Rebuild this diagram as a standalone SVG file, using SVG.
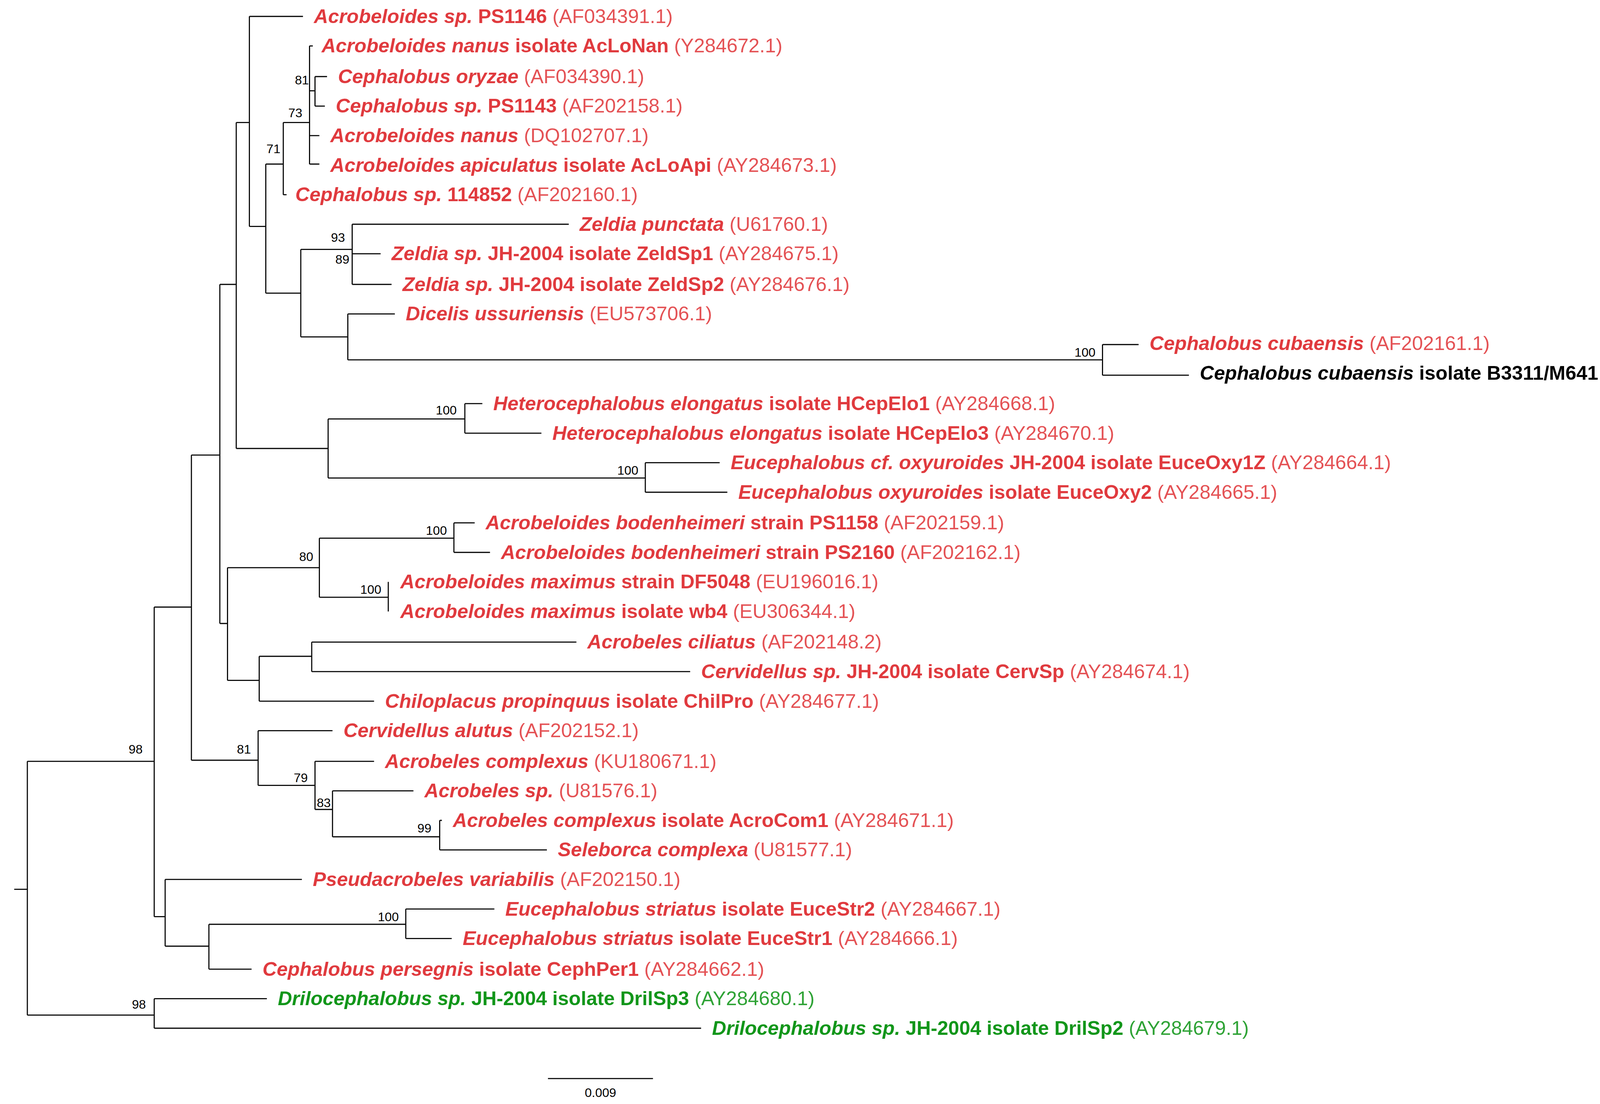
<svg xmlns="http://www.w3.org/2000/svg" width="4390" height="2826" viewBox="0 0 4390 2826">
<style>
.t{font-family:"Liberation Sans",Arial,sans-serif;font-size:18px;fill:#e03a3e}
.g{fill:#12961a}.k{fill:#000}
.n{font-style:italic;font-weight:bold}.s{font-weight:bold}.a{fill-opacity:0.88}
.b{font-family:"Liberation Sans",Arial,sans-serif;font-size:11.5px;fill:#000;text-anchor:middle}
.e{fill:none;stroke:#000;stroke-width:1}
</style>
<rect width="4390" height="2826" fill="#fff"/>
<g transform="scale(2.8)">
<g id="connectors">
<path class="e" d="M13 813H25M25 696V928M25 696H141M25 928H141M141 555V838M141 555H175M141 838H151M175 416V695M175 416H201M175 695H236M201 260V570M201 260H216M201 570H208M216 112V410M216 112H228M216 410H300M228 15V207M228 15H277M228 207H243M243 150V268M243 150H259M243 268H275M259 112V178M259 112H283M259 178H262M283 42V150M283 42H286M283 83H288M283 124H292M283 150H292M288 70V97M288 70H299M288 97H297M275 228V308M275 228H322M275 308H318M322 205V260M322 205H520M322 232H348M322 260H358M318 287V329M318 287H361M318 329H1008M1008 315V343M1008 315H1041M1008 343H1087M300 383V437M300 383H425M300 437H590M425 369V396M425 369H441M425 396H495M590 423V450M590 423H658M590 450H665M208 519V622M208 519H292M208 622H237M292 492V546M292 492H415M292 546H355M415 478V505M415 478H434M415 505H448M355 532V559M237 600V641M237 600H285M237 641H342M285 587V614M285 587H527M285 614H631M236 668V718M236 668H304M236 718H288M288 696V740M288 696H342M288 740H304M304 723V765M304 723H378M304 765H402M402 750V777M402 750H404M402 777H500M151 804V865M151 804H276M151 865H191M191 845V886M191 845H371M191 886H230M371 831V858M371 831H452M371 858H413M141 913V940M141 913H244M141 940H641M501 986H597"/>
</g>
<g id="bootstrap">
<text class="b" x="124" y="689">98</text><text class="b" x="223" y="689">81</text>
<text class="b" x="250" y="140">71</text><text class="b" x="270" y="107">73</text>
<text class="b" x="276" y="77">81</text><text class="b" x="309" y="221">93</text>
<text class="b" x="313" y="241">89</text><text class="b" x="992" y="326">100</text>
<text class="b" x="408" y="379">100</text><text class="b" x="574" y="434">100</text>
<text class="b" x="399" y="489">100</text><text class="b" x="280" y="513">80</text>
<text class="b" x="339" y="543">100</text><text class="b" x="275" y="715">79</text>
<text class="b" x="296" y="738">83</text><text class="b" x="388" y="761">99</text>
<text class="b" x="355" y="842">100</text><text class="b" x="127" y="922">98</text>
<text class="b" x="549" y="1003">0.009</text>
</g>
<g id="leaves">
<text id="n0" class="t" x="287" y="21"><tspan class="n">Acrobeloides sp.</tspan><tspan class="s"> PS1146</tspan><tspan class="a"> (AF034391.1)</tspan></text>
<text id="n1" class="t" x="294" y="48"><tspan class="n">Acrobeloides nanus</tspan><tspan class="s"> isolate AcLoNan</tspan><tspan class="a"> (Y284672.1)</tspan></text>
<text id="n2" class="t" x="309" y="76"><tspan class="n">Cephalobus oryzae</tspan><tspan class="a"> (AF034390.1)</tspan></text>
<text id="n3" class="t" x="307" y="103"><tspan class="n">Cephalobus sp.</tspan><tspan class="s"> PS1143</tspan><tspan class="a"> (AF202158.1)</tspan></text>
<text id="n4" class="t" x="302" y="130"><tspan class="n">Acrobeloides nanus</tspan><tspan class="a"> (DQ102707.1)</tspan></text>
<text id="n5" class="t" x="302" y="157"><tspan class="n">Acrobeloides apiculatus</tspan><tspan class="s"> isolate AcLoApi</tspan><tspan class="a"> (AY284673.1)</tspan></text>
<text id="n6" class="t" x="270" y="184"><tspan class="n">Cephalobus sp.</tspan><tspan class="s"> 114852</tspan><tspan class="a"> (AF202160.1)</tspan></text>
<text id="n7" class="t" x="530" y="211"><tspan class="n">Zeldia punctata</tspan><tspan class="a"> (U61760.1)</tspan></text>
<text id="n8" class="t" x="358" y="238"><tspan class="n">Zeldia sp.</tspan><tspan class="s"> JH-2004 isolate ZeldSp1</tspan><tspan class="a"> (AY284675.1)</tspan></text>
<text id="n9" class="t" x="368" y="266"><tspan class="n">Zeldia sp.</tspan><tspan class="s"> JH-2004 isolate ZeldSp2</tspan><tspan class="a"> (AY284676.1)</tspan></text>
<text id="n10" class="t" x="371" y="293"><tspan class="n">Dicelis ussuriensis</tspan><tspan class="a"> (EU573706.1)</tspan></text>
<text id="n11" class="t" x="1051" y="320"><tspan class="n">Cephalobus cubaensis</tspan><tspan class="a"> (AF202161.1)</tspan></text>
<text id="n12" class="t k" x="1097" y="347" textLength="465" lengthAdjust="spacingAndGlyphs"><tspan class="n">Cephalobus cubaensis</tspan><tspan class="s"> isolate B3311/M641</tspan><tspan> (PP182253)</tspan></text>
<text id="n13" class="t" x="451" y="375"><tspan class="n">Heterocephalobus elongatus</tspan><tspan class="s"> isolate HCepElo1</tspan><tspan class="a"> (AY284668.1)</tspan></text>
<text id="n14" class="t" x="505" y="402"><tspan class="n">Heterocephalobus elongatus</tspan><tspan class="s"> isolate HCepElo3</tspan><tspan class="a"> (AY284670.1)</tspan></text>
<text id="n15" class="t" x="668" y="429"><tspan class="n">Eucephalobus cf. oxyuroides</tspan><tspan class="s"> JH-2004 isolate EuceOxy1Z</tspan><tspan class="a"> (AY284664.1)</tspan></text>
<text id="n16" class="t" x="675" y="456"><tspan class="n">Eucephalobus oxyuroides</tspan><tspan class="s"> isolate EuceOxy2</tspan><tspan class="a"> (AY284665.1)</tspan></text>
<text id="n17" class="t" x="444" y="484"><tspan class="n">Acrobeloides bodenheimeri</tspan><tspan class="s"> strain PS1158</tspan><tspan class="a"> (AF202159.1)</tspan></text>
<text id="n18" class="t" x="458" y="511"><tspan class="n">Acrobeloides bodenheimeri</tspan><tspan class="s"> strain PS2160</tspan><tspan class="a"> (AF202162.1)</tspan></text>
<text id="n19" class="t" x="366" y="538"><tspan class="n">Acrobeloides maximus</tspan><tspan class="s"> strain DF5048</tspan><tspan class="a"> (EU196016.1)</tspan></text>
<text id="n20" class="t" x="366" y="565"><tspan class="n">Acrobeloides maximus</tspan><tspan class="s"> isolate wb4</tspan><tspan class="a"> (EU306344.1)</tspan></text>
<text id="n21" class="t" x="537" y="593"><tspan class="n">Acrobeles ciliatus</tspan><tspan class="a"> (AF202148.2)</tspan></text>
<text id="n22" class="t" x="641" y="620"><tspan class="n">Cervidellus sp.</tspan><tspan class="s"> JH-2004 isolate CervSp</tspan><tspan class="a"> (AY284674.1)</tspan></text>
<text id="n23" class="t" x="352" y="647"><tspan class="n">Chiloplacus propinquus</tspan><tspan class="s"> isolate ChilPro</tspan><tspan class="a"> (AY284677.1)</tspan></text>
<text id="n24" class="t" x="314" y="674"><tspan class="n">Cervidellus alutus</tspan><tspan class="a"> (AF202152.1)</tspan></text>
<text id="n25" class="t" x="352" y="702"><tspan class="n">Acrobeles complexus</tspan><tspan class="a"> (KU180671.1)</tspan></text>
<text id="n26" class="t" x="388" y="729"><tspan class="n">Acrobeles sp.</tspan><tspan class="a"> (U81576.1)</tspan></text>
<text id="n27" class="t" x="414" y="756"><tspan class="n">Acrobeles complexus</tspan><tspan class="s"> isolate AcroCom1</tspan><tspan class="a"> (AY284671.1)</tspan></text>
<text id="n28" class="t" x="510" y="783"><tspan class="n">Seleborca complexa</tspan><tspan class="a"> (U81577.1)</tspan></text>
<text id="n29" class="t" x="286" y="810"><tspan class="n">Pseudacrobeles variabilis</tspan><tspan class="a"> (AF202150.1)</tspan></text>
<text id="n30" class="t" x="462" y="837"><tspan class="n">Eucephalobus striatus</tspan><tspan class="s"> isolate EuceStr2</tspan><tspan class="a"> (AY284667.1)</tspan></text>
<text id="n31" class="t" x="423" y="864"><tspan class="n">Eucephalobus striatus</tspan><tspan class="s"> isolate EuceStr1</tspan><tspan class="a"> (AY284666.1)</tspan></text>
<text id="n32" class="t" x="240" y="892"><tspan class="n">Cephalobus persegnis</tspan><tspan class="s"> isolate CephPer1</tspan><tspan class="a"> (AY284662.1)</tspan></text>
<text id="n33" class="t g" x="254" y="919"><tspan class="n">Drilocephalobus sp.</tspan><tspan class="s"> JH-2004 isolate DrilSp3</tspan><tspan class="a"> (AY284680.1)</tspan></text>
<text id="n34" class="t g" x="651" y="946"><tspan class="n">Drilocephalobus sp.</tspan><tspan class="s"> JH-2004 isolate DrilSp2</tspan><tspan class="a"> (AY284679.1)</tspan></text>
</g>
</g>
</svg>
